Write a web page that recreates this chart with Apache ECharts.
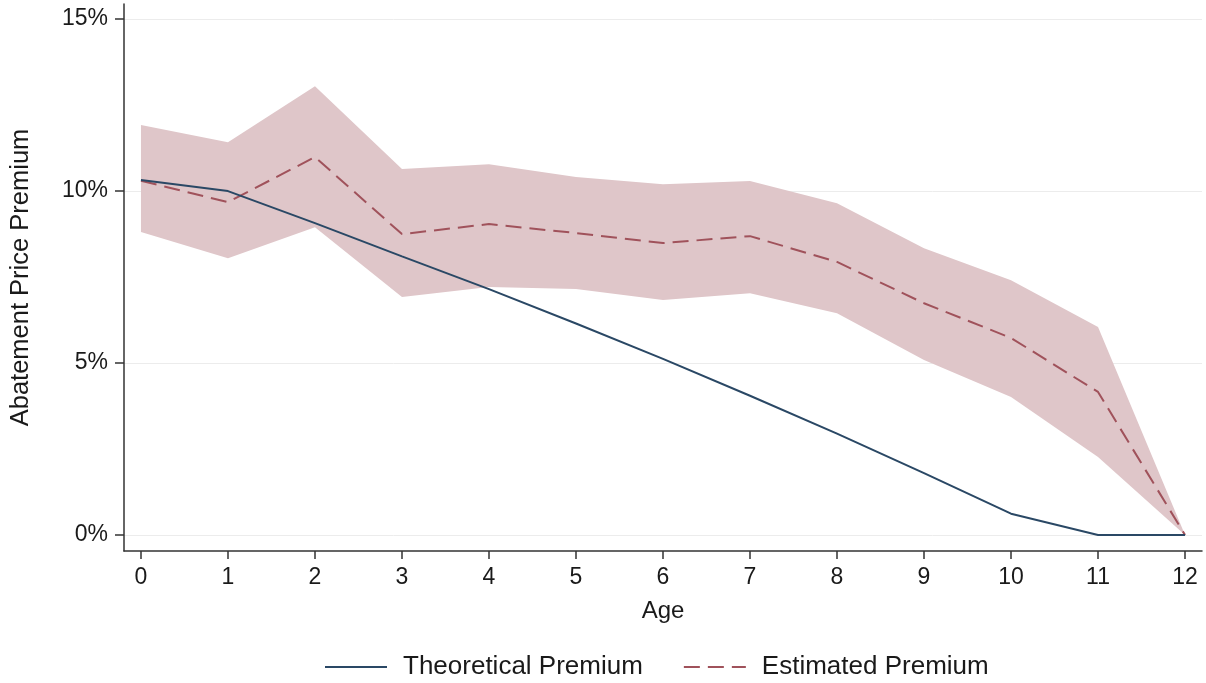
<!DOCTYPE html>
<html>
<head>
    <meta charset="utf-8">
    <title>Abatement Price Premium</title>
    <script src="https://cdn.jsdelivr.net/npm/echarts@6/dist/echarts.min.js"></script>
    <style>
        html, body { margin: 0; padding: 0; background: #fff; }
        #main { width: 1206px; height: 683px; }
    </style>
</head>
<body>
<div id="main"></div>
<script>
    // 数据（单位：%）
    var ages = [0, 1, 2, 3, 4, 5, 6, 7, 8, 9, 10, 11, 12];
    var theoretical = [10.32, 10.0, 9.07, 8.1, 7.15, 6.15, 5.12, 4.05, 2.95, 1.8, 0.62, 0, 0];
    var estimated = [10.3, 9.68, 10.99, 8.75, 9.04, 8.78, 8.49, 8.69, 7.94, 6.74, 5.73, 4.16, 0];
    var ciUpper = [11.92, 11.42, 13.05, 10.64, 10.78, 10.41, 10.2, 10.29, 9.65, 8.34, 7.41, 6.05, 0];
    var ciLower = [8.81, 8.05, 8.95, 6.92, 7.21, 7.15, 6.83, 7.03, 6.45, 5.09, 4.01, 2.27, 0];
    var yTicks = [0, 5, 10, 15];

    var font = 'Liberation Sans';
    var txt = '#1a1a1a';

    function pairs(vals) {
        return ages.map(function (a, i) { return [a, vals[i]]; });
    }

    // 置信区间：整条带画成一个多边形
    function renderBand(params, api) {
        if (params.dataIndex !== 0) return null;
        var pts = [];
        for (var i = 0; i < ages.length; i++) pts.push(api.coord([ages[i], ciUpper[i]]));
        for (var j = ages.length - 1; j >= 0; j--) pts.push(api.coord([ages[j], ciLower[j]]));
        return {
            type: 'polygon',
            shape: {points: pts},
            style: {fill: '#dfc6c9'}
        };
    }

    var chart = echarts.init(document.getElementById('main'));
    var option = {
        animation: false,
        backgroundColor: '#fff',
        grid: {left: 120, right: 4, top: 4, bottom: 132},
        legend: {
            data: ['Theoretical Premium', 'Estimated Premium'],
            top: 649,
            left: 319,
            itemWidth: 62,
            itemHeight: 14,
            itemGap: 40,
            itemStyle: {opacity: 0},
            textStyle: {fontFamily: font, fontSize: 26, color: txt, padding: [0, 0, 0, 11]}
        },
        xAxis: {
            type: 'value',
            min: -0.195,
            max: 12.195,
            name: 'Age',
            nameLocation: 'middle',
            nameGap: 48,
            nameTextStyle: {fontFamily: font, fontSize: 24, color: txt},
            axisLine: {show: true, onZero: false, lineStyle: {color: '#333', width: 1.5}},
            axisTick: {show: true, length: 8, customValues: ages, lineStyle: {color: '#333', width: 1.5}},
            axisLabel: {customValues: ages, fontFamily: font, fontSize: 23, color: txt, margin: 15},
            splitLine: {show: false}
        },
        yAxis: {
            type: 'value',
            min: -0.465,
            max: 15.44,
            name: 'Abatement Price Premium',
            nameLocation: 'middle',
            nameGap: 90,
            nameTextStyle: {fontFamily: font, fontSize: 25.5, color: txt},
            axisLine: {show: true, onZero: false, lineStyle: {color: '#333', width: 1.5}},
            axisTick: {show: true, length: 9, customValues: yTicks, lineStyle: {color: '#333', width: 1.5}},
            axisLabel: {
                customValues: yTicks, fontFamily: font, fontSize: 23, color: txt, margin: 16,
                formatter: function (v) { return v + '%'; }
            },
            splitLine: {show: true, customValues: yTicks, lineStyle: {color: '#ececec', width: 1}}
        },
        series: [
            {
                name: 'ci',
                type: 'custom',
                renderItem: renderBand,
                data: pairs(ciUpper),
                silent: true,
                z: 1
            },
            {
                name: 'Estimated Premium',
                type: 'line',
                data: pairs(estimated),
                symbol: 'none',
                color: '#a0525b',
                lineStyle: {color: '#a0525b', width: 2, type: [16, 8]},
                z: 3
            },
            {
                name: 'Theoretical Premium',
                type: 'line',
                data: pairs(theoretical),
                symbol: 'none',
                color: '#2a4865',
                lineStyle: {color: '#2a4865', width: 2},
                z: 4
            }
        ]
    };
    chart.setOption(option);
</script>
</body>
</html>
